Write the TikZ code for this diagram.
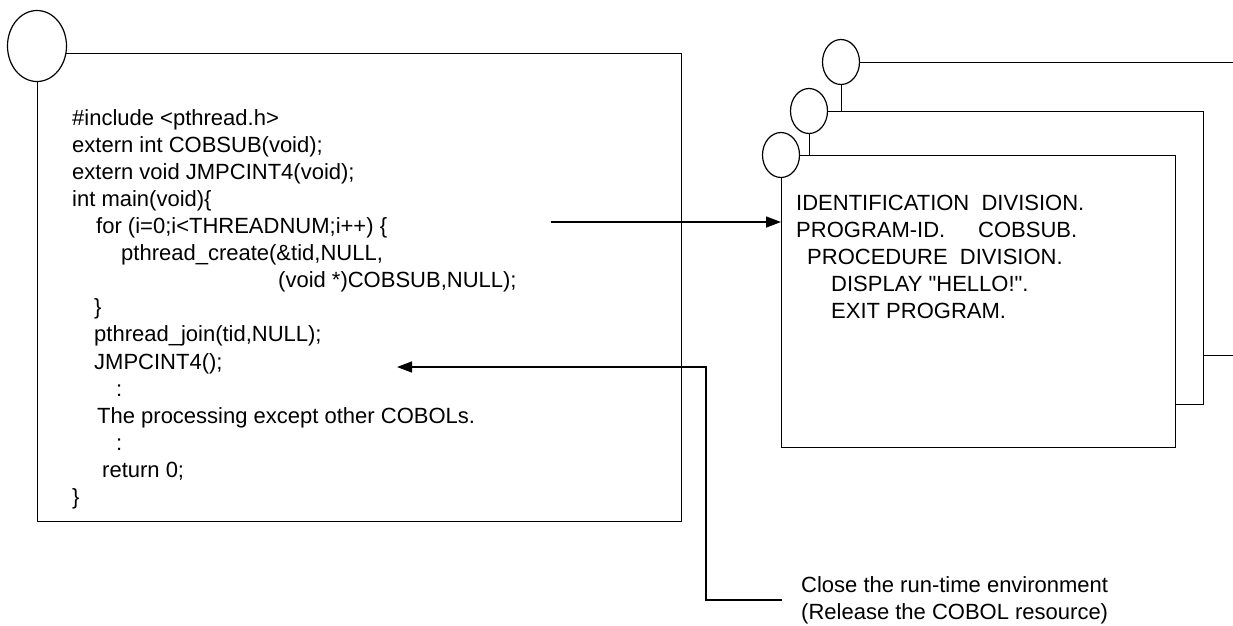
\documentclass[tikz,border=0pt]{standalone}
\usepackage{fontspec}
\setmainfont{Liberation Sans}[Ligatures=TeXOff]
\usetikzlibrary{arrows.meta, positioning, shapes.geometric}

\begin{document}
\begin{tikzpicture}[
    x=1pt, y=-1pt,
    arrow/.style={-{Triangle[length=15pt, width=11pt]}, line width=1.4pt, draw=black},
    codebox/.style={rectangle, draw=black, line width=1.4pt, fill=white,
        inner sep=0pt, anchor=north west},
    tagcircle/.style={ellipse, draw=black, line width=1.2pt, fill=white, inner sep=0pt},
    smalltag/.style={tagcircle, minimum width=37pt, minimum height=45pt},
    codetext/.style={font=\fontsize{22pt}{27.1pt}\selectfont, align=left,
        inner sep=0pt, anchor=north west}
]

% === Layout constants ===
\def\boxw{394pt}
\def\boxh{293pt}

\useasboundingbox (0,0) rectangle (1233,625);

% === Main program (C) ===
\node[codebox, minimum width=644pt, minimum height=468pt] (mainbox) at (37,53) {};
\node[tagcircle, minimum width=59pt, minimum height=71pt] (maintag)
    at ([yshift=7pt]mainbox.north west) {};
\node[codetext, below right=56pt and 35pt of mainbox.north west] (maincode)
    {\#include <pthread.h>\\
     extern int COBSUB(void);\\
     extern void JMPCINT4(void);\\
     int main(void)\{\\
     \hspace*{24pt}for (i=0;i<THREADNUM;i++) \{\\
     \hspace*{49pt}pthread\_create(\&tid,NULL,\\
     \hspace*{206pt}(void *)COBSUB,NULL);\\
     \hspace*{22pt}\}\\
     \hspace*{22pt}pthread\_join(tid,NULL);\\
     \hspace*{22pt}JMPCINT4();\\
     \hspace*{44pt}:\\
     \hspace*{25pt}The processing except other COBOLs.\\
     \hspace*{44pt}:\\
     \hspace*{30pt}return 0;\\
     \}};

% === COBOL subprogram, one box per thread (back to front) ===
\node[codebox, minimum width=420pt, minimum height=\boxh] (back) at (841,62) {};
\node[smalltag] (backtag) at (back.north west) {};
\node[codebox, minimum width=\boxw, minimum height=\boxh] (middle) at (809,111) {};
\node[smalltag] (middletag) at (middle.north west) {};
\node[codebox, minimum width=\boxw, minimum height=292pt] (front) at (781,155) {};
\node[smalltag] (fronttag) at (front.north west) {};

\node[codetext, below right=40pt and 15pt of front.north west] (cobolcode)
    {IDENTIFICATION\ \ DIVISION.\\
     \makebox[182pt][l]{PROGRAM-ID.}COBSUB.\\
     \hspace*{11pt}PROCEDURE\ \ DIVISION.\\
     \hspace*{35pt}DISPLAY "HELLO!".\\
     \hspace*{35pt}EXIT PROGRAM.};

% === Note ===
\node[codetext, inner xsep=19pt] (closenote) at (782,576)
    {Close the run-time environment\\(Release the COBOL resource)};

% === Arrows ===
\coordinate (forcall) at (551,222);
\coordinate (jmpret) at (397,367);
\draw[arrow] (forcall) -- (forcall -| front.west);
\draw[arrow] (closenote.west) -- ++(-76,0) |- (jmpret);

\end{tikzpicture}
\end{document}
